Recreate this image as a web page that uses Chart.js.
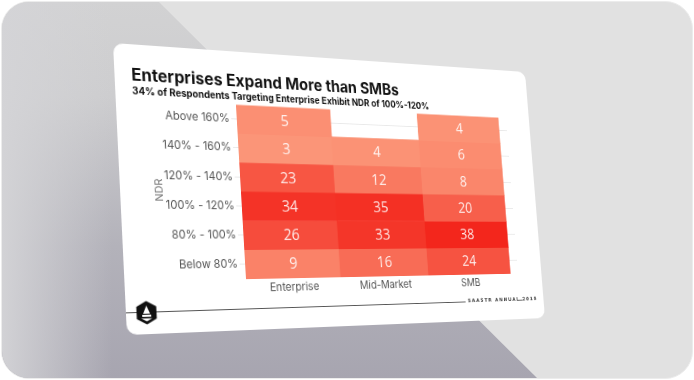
<!DOCTYPE html>
<html>
<head>
<meta charset="utf-8">
<script src="https://cdn.jsdelivr.net/npm/chart.js@4/dist/chart.umd.min.js"></script>
<style>
  html, body { margin: 0; padding: 0; width: 694px; height: 380px; background: #ffffff; overflow: hidden; }
  #frame { position: absolute; left: 1px; top: 1px; width: 690px; height: 376px; border-radius: 28px; overflow: hidden;
           background: #e1e1e1; border: 1px solid #ececec; }
  #shade { position: absolute; left: 0; top: 0; width: 690px; height: 376px;
           clip-path: polygon(0 0, 157px 0, 535px 376px, 0 376px);
           background:
             linear-gradient(to right, rgba(212,212,215,0.95) 0px, rgba(212,212,215,0) 110px),
             linear-gradient(to bottom, #d2d2d3 0%, #cdcdcf 25%, #b3b2ba 65%, #a7a5b0 100%); }
  #card { position: absolute; left: 0; top: 0; width: 490px; height: 290px; background: #ffffff; border-radius: 10px;
          transform-origin: 0 0; overflow: hidden; }
  #card canvas { position: absolute; left: 0; top: 0; }
  #footline { position: absolute; left: 0; top: 268px; width: 385px; height: 0; border-top: 0.9px solid #555; }
  #footline2 { position: absolute; left: 453px; top: 268px; width: 8px; height: 0; border-top: 0.9px solid #555; }
  #foottext { position: absolute; left: 388px; top: 264px; font: 600 5.6px "DejaVu Sans", sans-serif; letter-spacing: 1.3px; color: #444; white-space: nowrap; }
  #logo { position: absolute; left: 10px; top: 257px; width: 21px; height: 24px; }
</style>
</head>
<body>
<div id="frame"><div id="shade"></div></div>
<div id="card">
  <canvas id="c" width="490" height="290"></canvas>
  <div id="footline"></div>
  <div id="footline2"></div>
  <div id="foottext">SAASTR ANNUAL 2019</div>
  <svg id="logo" viewBox="0 0 21 24">
    <polygon points="10.5,0.5 20.5,6 20.5,18 10.5,23.5 0.5,18 0.5,6" fill="#111"/>
    <polygon points="10.5,5 14,13 7,13" fill="#fff"/>
    <rect x="6" y="14" width="9" height="2" fill="#fff"/>
    <polygon points="5,17.5 16,17.5 10.5,20.5" fill="#fff"/>
  </svg>
</div>
<script>
// ---- data ----
const titleText = 'Enterprises Expand More than SMBs';
const subtitleText = '34% of Respondents Targeting Enterprise Exhibit NDR of 100%-120%';
const rowLabels = ['Below 80%', '80% - 100%', '100% - 120%', '120% - 140%', '140% - 160%', 'Above 160%'];
const colLabels = ['Enterprise', 'Mid-Market', 'SMB'];
const enterprise = [9, 26, 34, 23, 3, 5];
const midMarket = [16, 33, 35, 12, 4, null];
const smb = [24, 38, 20, 8, 6, 4];
const yAxisTitle = 'NDR';

// ---- perspective placement of the slide ----
function placeCard(el, W, H, q) {
  const [x0,y0] = q[0], [x1,y1] = q[1], [x2,y2] = q[2], [x3,y3] = q[3];
  const dx1 = x1-x2, dx2 = x3-x2, dx3 = x0-x1+x2-x3;
  const dy1 = y1-y2, dy2 = y3-y2, dy3 = y0-y1+y2-y3;
  const den = dx1*dy2 - dx2*dy1;
  const g = (dx3*dy2 - dx2*dy3)/den;
  const h = (dx1*dy3 - dx3*dy1)/den;
  const a = x1-x0+g*x1, b = x3-x0+h*x3, c = x0;
  const d = y1-y0+g*y1, e = y3-y0+h*y3, f = y0;
  const m = [a/W, d/W, 0, g/W,  b/H, e/H, 0, h/H,  0,0,1,0,  c, f, 0, 1];
  el.style.transform = 'matrix3d(' + m.join(',') + ')';
}
placeCard(document.getElementById('card'), 490, 290, [[113,43],[525,72],[545,318],[127,335]]);

// ---- heatmap cells ----
const columns = [enterprise, midMarket, smb];
const cells = [];
columns.forEach((col, ci) => col.forEach((v, ri) => {
  if (v !== null) cells.push({ x: ci, y: [ri, ri + 1], v: v });
}));
const lo = [252, 159, 128], hi = [243, 38, 28];
function cellColor(v) {
  const t = Math.max(0, Math.min(1, v / 38));
  const c = lo.map((l, i) => Math.round(l + (hi[i] - l) * t));
  return 'rgb(' + c.join(',') + ')';
}

const valueLabels = {
  id: 'valueLabels',
  afterDatasetsDraw(chart) {
    const ctx = chart.ctx;
    const meta = chart.getDatasetMeta(0);
    ctx.save();
    ctx.fillStyle = 'rgba(255,255,255,0.88)';
    ctx.font = '16px "Open Sans", sans-serif';
    ctx.textAlign = 'center';
    ctx.textBaseline = 'middle';
    meta.data.forEach((el, i) => {
      const cy = (el.y + el.base) / 2;
      ctx.fillText(String(cells[i].v), el.x, cy + 1);
    });
    ctx.restore();
  }
};

new Chart(document.getElementById('c'), {
  type: 'bar',
  data: {
    datasets: [{
      data: cells,
      backgroundColor: cells.map(c => cellColor(c.v)),
      borderWidth: 0,
      barPercentage: 1,
      categoryPercentage: 1
    }]
  },
  options: {
    responsive: false,
    animation: false,
    devicePixelRatio: 1,
    layout: { padding: { left: 17, right: 32, top: 0, bottom: 28 } },
    plugins: {
      legend: { display: false },
      tooltip: { enabled: false },
      title: {
        display: true, text: titleText, align: 'start', color: '#111',
        font: { family: 'Inter', size: 17, weight: 'bold' },
        padding: { top: 22, bottom: 0 }
      },
      subtitle: {
        display: true, text: subtitleText, align: 'start', color: '#111',
        font: { family: 'Inter', size: 10, weight: 'bold' },
        padding: { top: 0, bottom: 2 }
      }
    },
    scales: {
      x: {
        type: 'linear', min: -0.5, max: 2.6, offset: false,
        afterBuildTicks: s => { s.ticks = colLabels.map((_, i) => ({ value: i })); },
        ticks: { callback: v => colLabels[v], color: '#555', font: { family: 'Inter', size: 11.5 }, padding: 3, maxRotation: 0, autoSkip: false },
        grid: { display: false, drawTicks: false, offset: false },
        border: { display: false },
        afterFit: s => { s.height = 24; }
      },
      y: {
        type: 'linear', min: 0, max: 6,
        afterBuildTicks: s => { s.ticks = rowLabels.map((_, i) => ({ value: i + 0.5 })); },
        ticks: { callback: v => rowLabels[Math.floor(v)], color: '#555', font: { family: 'Inter', size: 11.5 }, padding: 2, autoSkip: false },
        grid: { color: '#e9e9e9', lineWidth: 1, tickLength: 6, drawOnChartArea: true },
        border: { display: false },
        title: { display: true, text: yAxisTitle, color: '#777', font: { family: 'Inter', size: 11 }, padding: { top: 16, bottom: 0 } },
        afterFit: s => { s.width = 109; }
      }
    }
  },
  plugins: [valueLabels]
});
</script>
</body>
</html>
